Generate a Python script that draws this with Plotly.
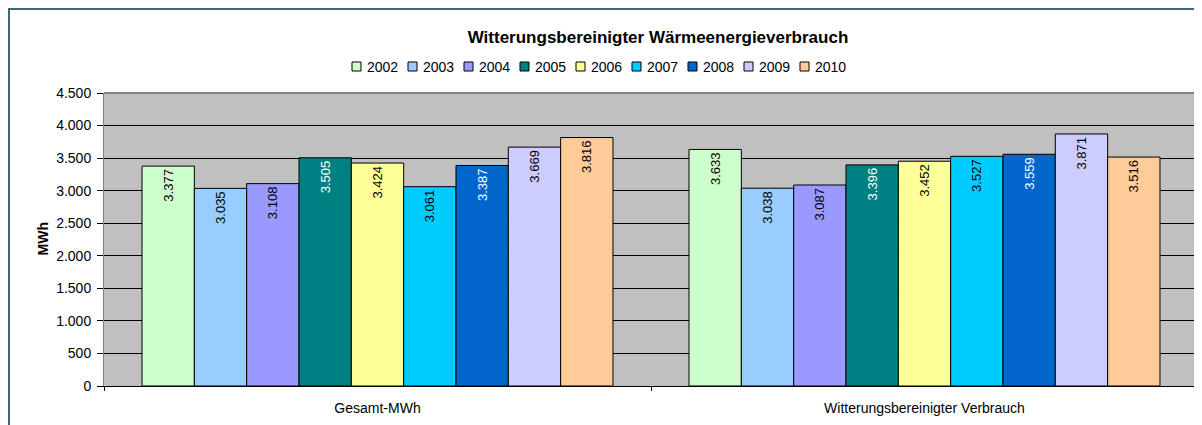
import plotly.graph_objects as go

categories = ["Gesamt-MWh", "Witterungsbereinigter Verbrauch"]
years = ["2002", "2003", "2004", "2005", "2006", "2007", "2008", "2009", "2010"]
values = {
    "2002": [3377, 3633],
    "2003": [3035, 3038],
    "2004": [3108, 3087],
    "2005": [3505, 3396],
    "2006": [3424, 3452],
    "2007": [3061, 3527],
    "2008": [3387, 3559],
    "2009": [3669, 3871],
    "2010": [3816, 3516],
}
colors = {
    "2002": "#CCFFCC", "2003": "#99CCFF", "2004": "#9999FF", "2005": "#008080",
    "2006": "#FFFF99", "2007": "#00CCFF", "2008": "#0066CC", "2009": "#CCCCFF",
    "2010": "#FFCC99",
}
text_colors = {y: "#000000" for y in years}
text_colors["2005"] = "#FFFFFF"
text_colors["2008"] = "#FFFFFF"

# page body has an 8px margin: figure coordinates = screen coordinates - 8
OFF = 8
W, H = 1202 - OFF, 425 - OFF
L, R, T, B = 104 - OFF, 1198 - OFF, 93 - OFF, 386 - OFF
FONT = "Liberation Sans, Arial"

fig = go.Figure()
for y in years:
    fig.add_trace(go.Bar(
        name=y, x=categories, y=values[y],
        marker=dict(color=colors[y], line=dict(color="#000000", width=1)),
        texttemplate="%{y:,}", textposition="inside", insidetextanchor="end",
        textangle=-90, insidetextfont=dict(color=text_colors[y], size=13, family=FONT),
        cliponaxis=False, showlegend=False,
    ))

def px_x(px):
    return (px - OFF - L) / (R - L)

def px_y(py):
    return (B - (py - OFF)) / (B - T)

# legend (Excel style: small outlined square + label, in one centred row)
LEG_X0, LEG_STEP, LEG_Y, SQ = 356.5, 56, 66.5, 4.5
legend_shapes, legend_annots = [], []
for i, yr in enumerate(years):
    cx = LEG_X0 + LEG_STEP * i
    legend_shapes.append(dict(
        type="rect", xref="paper", yref="paper",
        x0=px_x(cx - SQ), x1=px_x(cx + SQ), y0=px_y(LEG_Y + SQ), y1=px_y(LEG_Y - SQ),
        fillcolor=colors[yr], line=dict(color="#000000", width=1)))
    legend_annots.append(dict(
        text=yr, x=px_x(cx + 8), y=px_y(LEG_Y), xref="paper", yref="paper",
        xanchor="left", yanchor="middle", showarrow=False,
        font=dict(size=14, color="#000000")))

fig.update_layout(
    width=W, height=H,
    margin=dict(l=L, r=W - R, t=T, b=H - B, pad=0, autoexpand=False),
    paper_bgcolor="white", plot_bgcolor="#C0C0C0",
    font=dict(family=FONT, size=14, color="#000000"),
    separators=",.",
    barmode="group", bargap=0.139, bargroupgap=0,
    showlegend=False,
    title=dict(text="<b>Witterungsbereinigter Wärmeenergieverbrauch</b>",
               x=px_x(658), xref="paper", xanchor="center",
               y=1 - (37 - OFF) / H, yref="container", yanchor="middle",
               font=dict(size=17, family=FONT, color="#000000")),
    xaxis=dict(showgrid=False, showline=True, linecolor="#000000", linewidth=1,
               ticks="outside", tickson="boundaries", ticklen=4, tickcolor="#000000",
               ticklabelstandoff=9,
               tickfont=dict(size=14), fixedrange=True),
    yaxis=dict(range=[0, 4500], dtick=500, tickformat=",", showgrid=True,
               gridcolor="#000000", gridwidth=1, zeroline=False,
               showline=True, linecolor="#808080", linewidth=1,
               ticks="outside", ticklen=6, tickcolor="#000000",
               ticklabelstandoff=3,
               tickfont=dict(size=14), fixedrange=True),
    annotations=[dict(text="<b>MWh</b>", textangle=-90, x=px_x(42), y=0.5,
                      xref="paper", yref="paper", xanchor="center", yanchor="middle",
                      showarrow=False, font=dict(size=14, color="#000000"))] + legend_annots,
    shapes=[
        dict(type="line", xref="paper", yref="paper", x0=0, x1=1, y0=1, y1=1,
             line=dict(color="#808080", width=2)),
        dict(type="line", xref="paper", yref="paper", x0=1, x1=1, y0=0, y1=1,
             line=dict(color="#808080", width=1)),
        dict(type="rect", xref="paper", yref="paper",
             x0=px_x(OFF + 1), x1=px_x(1215), y0=px_y(440), y1=px_y(9),
             line=dict(color="#3E6878", width=2), layer="above"),
    ] + legend_shapes,
)

fig.write_html("out.html")
